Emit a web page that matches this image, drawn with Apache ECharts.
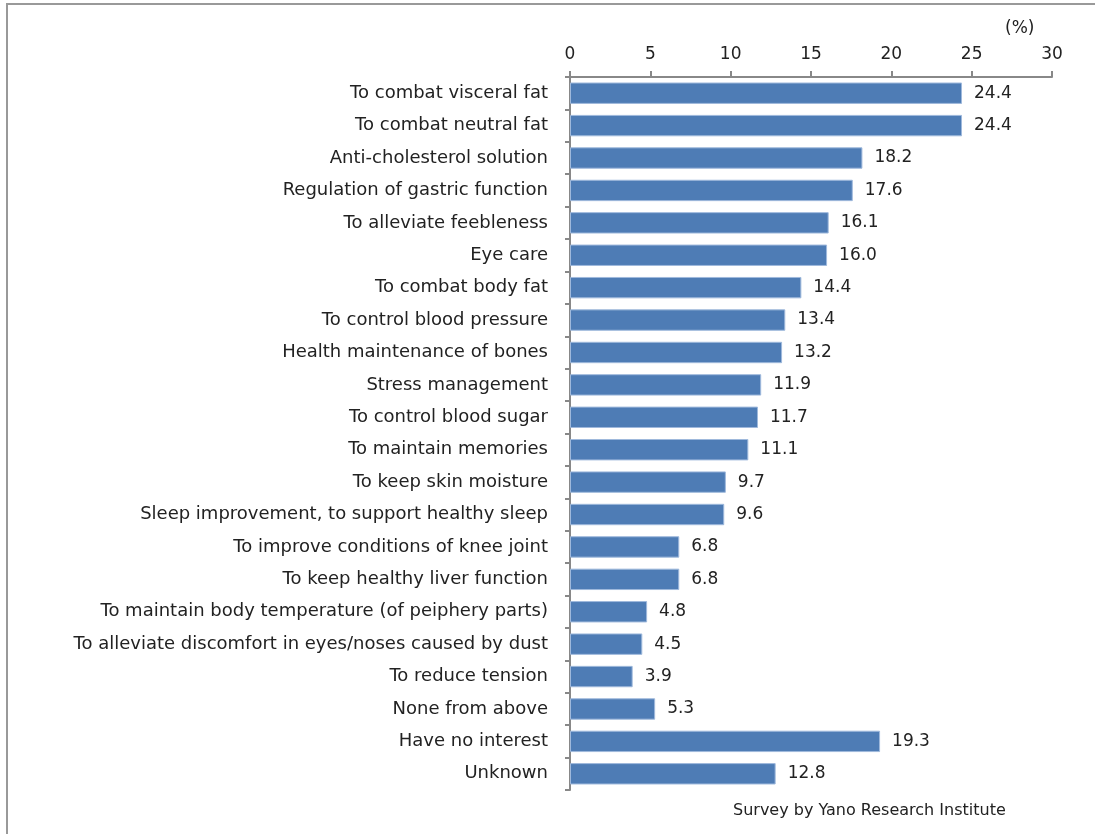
<!DOCTYPE html>
<html><head><meta charset="utf-8">
<script src="https://cdn.jsdelivr.net/npm/echarts@6/dist/echarts.min.js"></script>
<style>html,body{margin:0;padding:0;background:#fff}#c{width:1095px;height:834px}</style>
</head><body><div id="c"></div>
<script>
const categories = [
  "To combat visceral fat",
  "To combat neutral fat",
  "Anti-cholesterol solution",
  "Regulation of gastric function",
  "To alleviate feebleness",
  "Eye care",
  "To combat body fat",
  "To control blood pressure",
  "Health maintenance of bones",
  "Stress management",
  "To control blood sugar",
  "To maintain memories",
  "To keep skin moisture",
  "Sleep improvement, to support healthy sleep",
  "To improve conditions of knee joint",
  "To keep healthy liver function",
  "To maintain body temperature (of peiphery parts)",
  "To alleviate discomfort in eyes/noses caused by dust",
  "To reduce tension",
  "None from above",
  "Have no interest",
  "Unknown"
];
const values = [24.4, 24.4, 18.2, 17.6, 16.1, 16.0, 14.4, 13.4, 13.2, 11.9, 11.7, 11.1, 9.7, 9.6, 6.8, 6.8, 4.8, 4.5, 3.9, 5.3, 19.3, 12.8];
const unitLabel = "(%)";
const sourceText = "Survey by Yano Research Institute";

const FONT = "DejaVu Sans";
const chart = echarts.init(document.getElementById('c'), null, {renderer: 'canvas'});
chart.setOption({
  animation: false,
  backgroundColor: '#fff',
  grid: {left: 570, right: 43, top: 77, bottom: 44, containLabel: false},
  graphic: [
    {type: 'rect', shape: {x: 7, y: 4, width: 1200, height: 900}, style: {fill: 'none', stroke: '#999', lineWidth: 2}, silent: true, z: -10},
    {type: 'text', x: 1005, y: 20, style: {text: unitLabel, fontSize: 17, fontFamily: FONT, fill: '#222'}},
    {type: 'text', x: 733, y: 803, style: {text: sourceText, fontSize: 16, fontFamily: FONT, fill: '#222'}}
  ],
  xAxis: {
    type: 'value', position: 'top', min: 0, max: 30, interval: 5,
    axisLine: {show: true, lineStyle: {color: '#888', width: 2}},
    axisTick: {show: true, length: 6, lineStyle: {color: '#888', width: 2}},
    splitLine: {show: false},
    axisLabel: {color: '#222', fontSize: 17, fontFamily: FONT, margin: 14}
  },
  yAxis: {
    type: 'category', inverse: true, data: categories,
    axisLine: {show: true, lineStyle: {color: '#888', width: 2}},
    axisTick: {show: true, length: 5, lineStyle: {color: '#888', width: 2}},
    axisLabel: {color: '#222', fontSize: 18, fontFamily: FONT, margin: 22}
  },
  series: [{
    type: 'bar', data: values, barWidth: '66%',
    itemStyle: {color: '#4E7CB5', borderColor: '#9FB9DC', borderWidth: 1},
    label: {show: true, position: 'right', distance: 12, color: '#222', fontSize: 17, fontFamily: FONT,
      formatter: p => p.value.toFixed(1)}
  }]
});
</script></body></html>
